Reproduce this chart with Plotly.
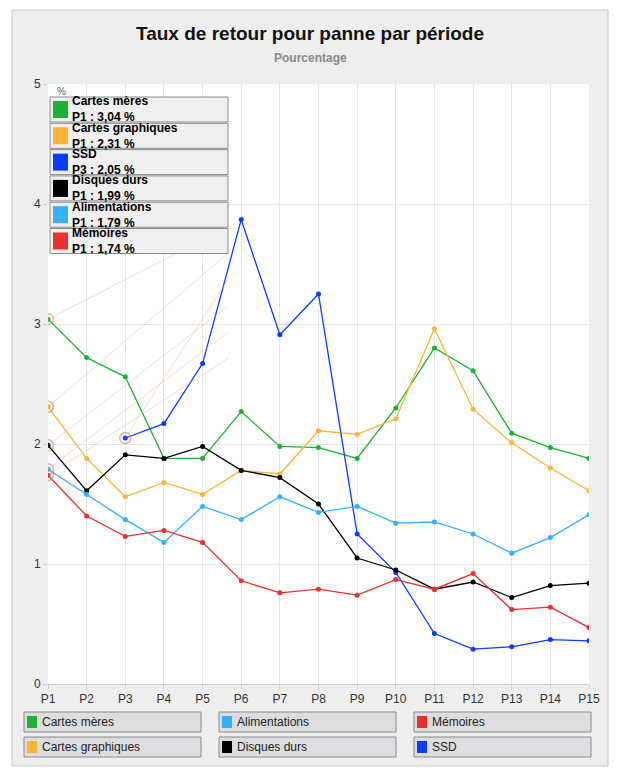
import plotly.graph_objects as go

periods = ["P%d" % i for i in range(1, 16)]

cartes_meres = [3.04, 2.72, 2.56, 1.88, 1.88, 2.27, 1.98, 1.97, 1.88, 2.30, 2.80, 2.61, 2.09, 1.97, 1.88]
cartes_graphiques = [2.31, 1.88, 1.56, 1.68, 1.58, 1.78, 1.75, 2.11, 2.08, 2.21, 2.96, 2.29, 2.01, 1.80, 1.61]
ssd = [None, None, 2.05, 2.17, 2.67, 3.87, 2.91, 3.25, 1.25, 0.93, 0.42, 0.29, 0.31, 0.37, 0.36]
disques_durs = [1.99, 1.61, 1.91, 1.88, 1.98, 1.78, 1.72, 1.50, 1.05, 0.95, 0.79, 0.85, 0.72, 0.82, 0.84]
alimentations = [1.79, 1.58, 1.37, 1.18, 1.48, 1.37, 1.56, 1.43, 1.48, 1.34, 1.35, 1.25, 1.09, 1.22, 1.41]
memoires = [1.74, 1.40, 1.23, 1.28, 1.18, 0.86, 0.76, 0.79, 0.74, 0.87, 0.79, 0.92, 0.62, 0.64, 0.47]

series = [
    ("Cartes mères", cartes_meres, "#1db233"),
    ("Cartes graphiques", cartes_graphiques, "#ffb233"),
    ("SSD", ssd, "#0a3cff"),
    ("Disques durs", disques_durs, "#000000"),
    ("Alimentations", alimentations, "#33b0ff"),
    ("Mémoires", memoires, "#e83030"),
]
legend_order = ["Cartes mères", "Alimentations", "Mémoires", "Cartes graphiques", "Disques durs", "SSD"]

# page body adds an 8px margin, so draw the figure 8px smaller and shifted
OFF = 8
W, H = 620 - OFF, 776 - OFF
L, R, T, B = 48, 589, 84, 684  # positions in window pixels


def px(x):
    return (x - L) / (R - L)


def py(y):
    return (B - y) / (B - T)


fig = go.Figure()
shapes, annos = [], []
# background frame
shapes.append(dict(type="rect", xref="paper", yref="paper", x0=px(12), x1=px(608), y0=py(10), y1=py(766),
                   line=dict(color="#c8c8c8", width=1), fillcolor="#eeeeee", layer="below"))
shapes.append(dict(type="rect", xref="paper", yref="paper", x0=0, x1=1, y0=0, y1=1,
                   line=dict(width=0), fillcolor="white", layer="below"))

for i, (name, vals, col) in enumerate(series):
    fig.add_trace(go.Scatter(x=periods, y=vals, mode="lines+markers", name=name,
                             line=dict(color=col, width=1.3), marker=dict(size=5, color=col),
                             showlegend=False))
    k = next(j for j, v in enumerate(vals) if v is not None)
    # highlight ring on first point
    fig.add_trace(go.Scatter(x=[periods[k]], y=[vals[k]], mode="markers", showlegend=False,
                             marker=dict(size=11, color="rgba(0,0,0,0)",
                                         line=dict(color="rgba(200,130,100,0.6)", width=1.5))))
    # info box
    top = 97 + i * 26.3
    bot = top + 25
    shapes.append(dict(type="line", xref="x", yref="y", x0=k, y0=vals[k],
                       x1=px(228) * 14, y1=(B - (top + 130)) / 120,
                       line=dict(color="rgba(230,160,130,0.35)", width=1)))
    shapes.append(dict(type="rect", xref="paper", yref="paper", x0=px(50), x1=px(228), y0=py(bot), y1=py(top),
                       line=dict(color="#8a8a8a", width=1), fillcolor="#efefef"))
    shapes.append(dict(type="rect", xref="paper", yref="paper", x0=px(53), x1=px(68), y0=py(bot - 4), y1=py(top + 4),
                       line=dict(width=0), fillcolor=col))
    val = ("%.2f" % vals[k]).replace(".", ",")
    annos.append(dict(xref="paper", yref="paper", x=px(70), y=py(top + 12.5), xanchor="left", yanchor="middle",
                      showarrow=False, align="left",
                      text="<b>%s<br>%s : %s %%</b>" % (name, periods[k], val),
                      font=dict(size=12, color="black", family="Arial")))

# bottom legend
col_x = [24, 219, 414]
row_y = [712, 737]
lookup = {n: c for n, _, c in series}
for idx, name in enumerate(legend_order):
    x0 = col_x[idx % 3]
    y0 = row_y[idx // 3]
    shapes.append(dict(type="rect", xref="paper", yref="paper", x0=px(x0), x1=px(x0 + 177), y0=py(y0 + 20), y1=py(y0),
                       line=dict(color="#8a8a8a", width=1), fillcolor="#dcdde0"))
    shapes.append(dict(type="rect", xref="paper", yref="paper", x0=px(x0 + 3), x1=px(x0 + 13), y0=py(y0 + 16),
                       y1=py(y0 + 4), line=dict(width=0), fillcolor=lookup[name]))
    annos.append(dict(xref="paper", yref="paper", x=px(x0 + 16), y=py(y0 + 10), xanchor="left", yanchor="middle",
                      showarrow=False, text=name, font=dict(size=12, color="#222222")))

annos.append(dict(xref="paper", yref="paper", x=px(310), y=py(33), showarrow=False, yanchor="middle",
                  text="<b>Taux de retour pour panne par période</b>", font=dict(size=19, color="#111111")))
annos.append(dict(xref="paper", yref="paper", x=px(310), y=py(58), showarrow=False, yanchor="middle",
                  text="<b>Pourcentage</b>", font=dict(size=12, color="#888888")))
annos.append(dict(xref="paper", yref="paper", x=px(55), y=py(92), showarrow=False, xanchor="left", yanchor="middle",
                  text="%", font=dict(size=10, color="#555555")))

fig.update_layout(
    width=W, height=H, paper_bgcolor="white", plot_bgcolor="rgba(0,0,0,0)",
    margin=dict(l=L - OFF, r=620 - R, t=T - OFF, b=776 - B),
    font=dict(family="Arial", size=12, color="#333333"),
    shapes=shapes, annotations=annos,
    xaxis=dict(range=[0, 14], showgrid=True, gridcolor="#e6e6e6", zeroline=False, ticks="outside",
               tickcolor="#cccccc", ticklen=4, linecolor="#cccccc", showline=True, tickfont=dict(size=12)),
    yaxis=dict(range=[0, 5], dtick=1, showgrid=True, gridcolor="#e6e6e6", zeroline=False, ticks="outside",
               tickcolor="#cccccc", ticklen=4, tickfont=dict(size=12)),
)

fig.write_html("out.html")
